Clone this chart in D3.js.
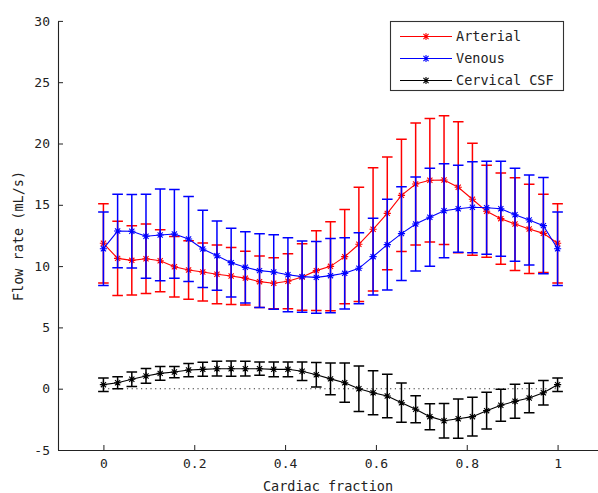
<!DOCTYPE html>
<head>
  <meta charset="utf-8">
  <script src="https://d3js.org/d3.v7.min.js"></script>
  <style>
    body { margin: 0; background: #fff; }
    text { font-family: "DejaVu Sans Mono", monospace; fill: #222; }
  </style>
</head>
<body>
<svg width="598" height="493"></svg>
<script>

  // cardiac fraction (33 samples over one cycle)
  let fraction = [0, 0.03125, 0.0625, 0.09375, 0.125, 0.15625, 0.1875, 0.21875, 0.25, 0.28125,
    0.3125, 0.34375, 0.375, 0.40625, 0.4375, 0.46875, 0.5, 0.53125, 0.5625, 0.59375,
    0.625, 0.65625, 0.6875, 0.71875, 0.75, 0.78125, 0.8125, 0.84375, 0.875, 0.90625,
    0.9375, 0.96875, 1];

  let arterial = [11.86, 10.63, 10.47, 10.6, 10.44, 9.95, 9.68, 9.52, 9.33, 9.19,
    9.02, 8.73, 8.6, 8.76, 9.11, 9.63, 9.98, 10.77, 11.78, 13.0,
    14.3, 15.77, 16.7, 17.0, 17.02, 16.43, 15.45, 14.47, 13.87, 13.43,
    13.03, 12.67, 11.86];
  let arterialErr = [3.23, 3.03, 2.83, 2.83, 2.53, 2.47, 2.38, 2.37, 2.4, 2.32,
    2.2, 2.1, 2.08, 2.24, 2.72, 3.25, 3.63, 3.85, 4.66, 5.03,
    4.6, 4.58, 4.98, 5.03, 5.25, 5.35, 4.57, 3.75, 3.72, 3.78,
    3.64, 3.2, 3.23];

  let venous = [11.42, 12.86, 12.84, 12.43, 12.54, 12.62, 12.21, 11.4, 10.85, 10.28,
    9.9, 9.63, 9.52, 9.3, 9.14, 9.08, 9.22, 9.41, 9.82, 10.77,
    11.75, 12.65, 13.43, 13.98, 14.52, 14.68, 14.8, 14.76, 14.68, 14.19,
    13.76, 13.3, 11.42];
  let venousErr = [3.0, 3.0, 3.0, 3.43, 3.74, 3.62, 3.46, 3.15, 2.83, 2.8,
    2.9, 3.0, 3.03, 3.02, 2.9, 2.92, 3.03, 2.9, 2.9, 3.13,
    3.7, 3.82, 3.83, 4.0, 3.83, 3.55, 3.71, 3.79, 3.88, 3.8,
    3.68, 3.92, 3.0];

  let csf = [0.33, 0.49, 0.77, 1.04, 1.25, 1.36, 1.52, 1.58, 1.63, 1.63,
    1.63, 1.63, 1.58, 1.58, 1.42, 1.14, 0.8, 0.49, 0.0, -0.33,
    -0.6, -1.14, -1.68, -2.28, -2.61, -2.45, -2.28, -1.79, -1.35, -1.03,
    -0.76, -0.33, 0.33];
  let csfErr = [0.55, 0.49, 0.6, 0.6, 0.57, 0.46, 0.54, 0.57, 0.6, 0.62,
    0.6, 0.54, 0.6, 0.6, 0.76, 1.0, 1.3, 1.6, 1.85, 1.8,
    1.77, 1.6, 1.1, 1.06, 1.41, 1.6, 1.58, 1.5, 1.3, 1.39,
    1.2, 1.0, 0.55];

  let xTicks = [0, 0.2, 0.4, 0.6, 0.8, 1];
  let yTicks = [-5, 0, 5, 10, 15, 20, 25, 30];

  let series = [
    {name: "Arterial", color: "#ff0000", values: arterial, err: arterialErr},
    {name: "Venous", color: "#0000ff", values: venous, err: venousErr},
    {name: "Cervical CSF", color: "#000000", values: csf, err: csfErr}
  ];

  let svg = d3.select("svg");

  let x = d3.scaleLinear().domain([-0.1, 1.1]).range([58, 603]);
  let y = d3.scaleLinear().domain([-5, 30]).range([450, 20.9]);

  // zero reference line
  svg.append("line")
    .attr("x1", x(0)).attr("x2", x(1))
    .attr("y1", y(0)).attr("y2", y(0))
    .attr("stroke", "#333")
    .attr("stroke-width", 1.1)
    .attr("stroke-dasharray", "1.2,3.5");

  function star(g, cx, cy, r, color) {
    let d = r * 0.72;
    g.append("path")
      .attr("d", "M" + (cx - r) + "," + cy + "H" + (cx + r) +
        "M" + cx + "," + (cy - r) + "V" + (cy + r) +
        "M" + (cx - d) + "," + (cy - d) + "L" + (cx + d) + "," + (cy + d) +
        "M" + (cx - d) + "," + (cy + d) + "L" + (cx + d) + "," + (cy - d))
      .attr("stroke", color)
      .attr("stroke-width", 1.1)
      .attr("fill", "none");
  }

  let line = d3.line()
    .x(function (d, i) { return x(fraction[i]); })
    .y(function (d) { return y(d); });

  series.forEach(function (s) {
    let g = svg.append("g");
    let cap = 5.3;

    s.values.forEach(function (v, i) {
      let px = x(fraction[i]),
        top = y(v + s.err[i]),
        bot = y(v - s.err[i]);
      g.append("path")
        .attr("d", "M" + px + "," + top + "V" + bot +
          "M" + (px - cap) + "," + top + "H" + (px + cap) +
          "M" + (px - cap) + "," + bot + "H" + (px + cap))
        .attr("stroke", s.color)
        .attr("stroke-width", 1.5)
        .attr("fill", "none");
    });

    g.append("path")
      .attr("d", line(s.values))
      .attr("stroke", s.color)
      .attr("stroke-width", 1.1)
      .attr("fill", "none");

    s.values.forEach(function (v, i) {
      star(g, x(fraction[i]), y(v), 3.6, s.color);
    });
  });

  // axes (ticks inside, like matlab)
  let xAxis = svg.append("g")
    .attr("transform", "translate(0," + y(-5) + ")")
    .call(d3.axisBottom(x).tickValues(xTicks).tickSize(-5).tickSizeOuter(0)
      .tickPadding(9).tickFormat(function (d) { return String(d); }));

  let yAxis = svg.append("g")
    .attr("transform", "translate(" + x(-0.1) + ",0)")
    .call(d3.axisLeft(y).tickValues(yTicks).tickSize(-5).tickSizeOuter(0)
      .tickPadding(8).tickFormat(function (d) { return String(d); }));

  [xAxis, yAxis].forEach(function (a) {
    a.select(".domain").attr("stroke", "#222").attr("stroke-width", 1.1);
    a.selectAll(".tick line").attr("stroke", "#222");
    a.selectAll("text")
      .style("font-family", "DejaVu Sans Mono, monospace")
      .style("font-size", "13px")
      .attr("fill", "#222");
  });

  svg.append("text")
    .attr("x", 328).attr("y", 491)
    .attr("text-anchor", "middle")
    .style("font-size", "13.5px")
    .text("Cardiac fraction");

  svg.append("text")
    .attr("transform", "translate(23,236) rotate(-90)")
    .attr("text-anchor", "middle")
    .style("font-size", "13.5px")
    .text("Flow rate (mL/s)");

  // legend
  let legend = svg.append("g");
  legend.append("rect")
    .attr("x", 390.5).attr("y", 21.5)
    .attr("width", 173).attr("height", 69)
    .attr("fill", "#fff")
    .attr("stroke", "#333")
    .attr("stroke-width", 1.1);

  series.forEach(function (s, i) {
    let ly = 36.5 + i * 22;
    legend.append("line")
      .attr("x1", 400).attr("x2", 452)
      .attr("y1", ly).attr("y2", ly)
      .attr("stroke", s.color)
      .attr("stroke-width", 1.1);
    star(legend, 426, ly, 3.6, s.color);
    legend.append("text")
      .attr("x", 456).attr("y", ly + 4.5)
      .style("font-size", "13.5px")
      .text(s.name);
  });

</script>
</body>
